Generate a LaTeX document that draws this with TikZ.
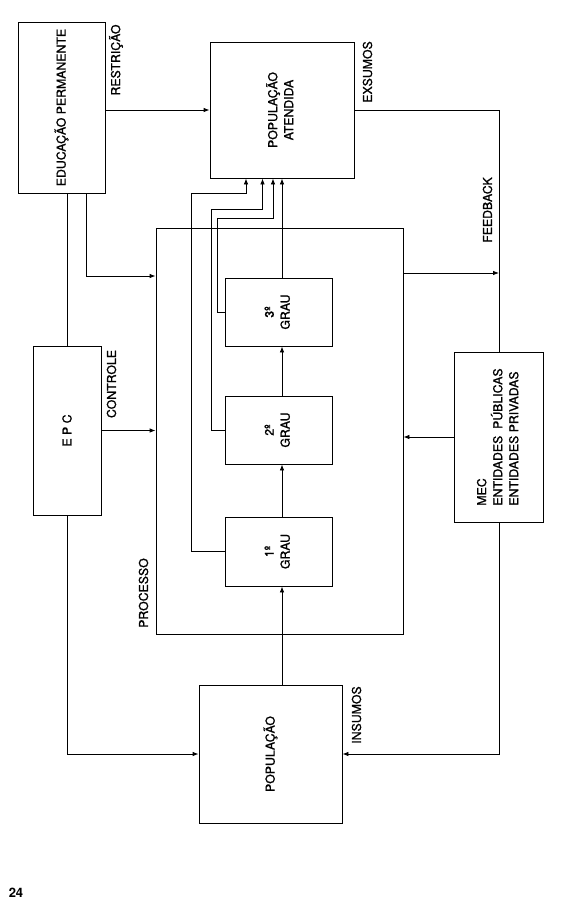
\documentclass[tikz,border=0pt]{standalone}
\usepackage{graphicx}
\usepackage{fontspec}
\setmainfont{TeX Gyre Heros}[UprightFeatures={FakeBold=1.2}]
\usetikzlibrary{arrows.meta, calc}

\tikzset{
	bloco/.style = {draw, rectangle, inner sep=0pt, fill=white},
	rotulo/.style = {rotate=90, inner sep=0pt},
	seta/.style = {-{Latex[length=6pt, width=4.5pt]}},
}

\begin{document}
\begin{tikzpicture}[x=1pt, y=-1pt, line width=0.8pt, font=\fontsize{12.3}{16}\selectfont]
\useasboundingbox (0,0) rectangle (564,902);

\node[bloco, minimum width=87pt, minimum height=171pt] (ep) at (61.5,107.5)
	{\rotatebox{90}{EDUCAÇÃO PERMANENTE}};
\node[bloco, minimum width=144pt, minimum height=136pt] (pa) at (282,110)
	{\rotatebox{90}{\begin{tabular}{@{}c@{}}POPULAÇÃO\\ATENDIDA\end{tabular}}};
\node[bloco, minimum width=247pt, minimum height=406pt] (proc) at (279.5,431) {};
\node[bloco, minimum width=107pt, minimum height=68pt] (g3) at (278.5,312)
	{\rotatebox{90}{\begin{tabular}{@{}c@{}}3º\\GRAU\end{tabular}}};
\node[bloco, minimum width=107pt, minimum height=68pt] (g2) at (278.5,430)
	{\rotatebox{90}{\begin{tabular}{@{}c@{}}2º\\GRAU\end{tabular}}};
\node[bloco, minimum width=107pt, minimum height=69pt] (g1) at (278.5,551.5)
	{\rotatebox{90}{\begin{tabular}{@{}c@{}}1º\\GRAU\end{tabular}}};
\node[bloco, minimum width=68pt, minimum height=169pt] (epc) at (67,430.5)
	{\rotatebox{90}{E P C}};
\node[bloco, minimum width=89pt, minimum height=170pt] (mec) at (499,437)
	{\rotatebox{90}{\begin{tabular}{@{}l@{}}MEC\\ENTIDADES\ \ PÚBLICAS\\ENTIDADES PRIVADAS\end{tabular}}};
\node[bloco, minimum width=143pt, minimum height=138pt] (pop) at (270.5,754)
	{\rotatebox{90}{POPULAÇÃO}};

\node[rotulo] (restr) at (116,60) {RESTRIÇÃO};
\node[rotulo] (exs) at (367.5,72) {EXSUMOS};
\node[rotulo] (fb) at (487.5,210) {FEEDBACK};
\node[rotulo] (ctrl) at (111.5,384) {CONTROLE};
\node[rotulo] (procl) at (143.5,593) {PROCESSO};
\node[rotulo] (ins) at (356.5,715) {INSUMOS};
\node[font=\bfseries\fontsize{13}{14}\selectfont] (pag) at (16,893) {24};

\coordinate (eixo) at (282,0);
\coordinate (epk) at (86,276);
\coordinate (fbx) at (499,273);
\coordinate (r1) at (191,193);
\coordinate (r2) at (211,209);
\coordinate (r3) at (217.5,218);
\coordinate (t1) at (246,0);
\coordinate (t2) at (262.5,0);
\coordinate (t3) at (273,0);

\draw[seta] (ep.east |- pa.west) -- (pa.west);
\draw (ep.south -| epc.north) -- (epc.north);
\draw[seta] (ep.south -| epk) |- (proc.west |- epk);
\draw[seta] (epc.east) -- (epc.east -| proc.west);
\draw[seta] (epc.south) |- (pop.west);

\draw (pa.east) -| (mec.north);
\draw[seta] (mec.south) |- (pop.east);
\draw[seta] (proc.east |- fbx) -- (fbx);
\draw[seta] (mec.west) -- (mec.west -| proc.east);

\foreach \a/\b in {pop/g1, g1/g2, g2/g3, g3/pa}
	\draw[seta] (\a.north -| eixo) -- (\b.south -| eixo);
\foreach \g/\r/\t in {g1/r1/t1, g2/r2/t2, g3/r3/t3}
	\draw[seta] (\g.west) -| (\r) -| (pa.south -| \t);
\end{tikzpicture}
\end{document}
